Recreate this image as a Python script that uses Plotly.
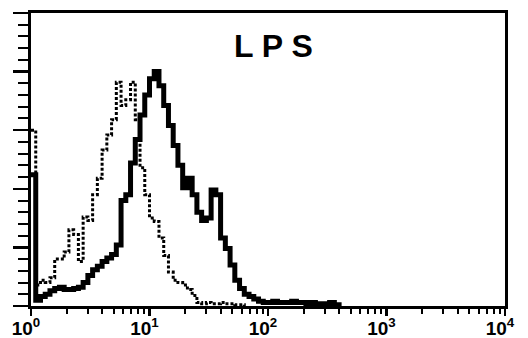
import numpy as np
import plotly.graph_objects as go

# Histogram bins: left edges, equally spaced in log10 (0.04 decade per bin)
bin_step_decades = 0.04

# Solid (thick) histogram – LPS stained sample, counts per bin
solid_counts = [112, 5, 8, 10, 13, 15, 16, 14, 14, 15,
                16, 20, 26, 31, 34, 38, 41, 44, 52, 90,
                95, 122, 142, 163, 180, 194, 200, 188, 171, 154,
                137, 120, 101, 109, 95, 80, 73, 75, 99, 95,
                58, 49, 35, 22, 15, 10, 8, 6, 4, 3,
                3, 4, 3, 3, 3, 4, 3, 3, 2, 3,
                2, 1, 2, 3, 1, 0]

# Dotted histogram – control, counts per bin
dotted_counts = [150, 18, 22, 20, 24, 40, 40, 46, 65, 61,
                 38, 76, 73, 95, 109, 133, 146, 159, 191, 171,
                 176, 191, 159, 118, 95, 75, 72, 58, 43, 29,
                 22, 20, 18, 14, 9, 3, 2, 3, 2, 2,
                 3, 2, 2, 1, 1, 0]

title_text = "L P S"
x_tick_vals = [1, 10, 100, 1000, 10000]
x_tick_text = ["10<sup>0</sup>", "10<sup>1</sup>", "10<sup>2</sup>",
               "10<sup>3</sup>", "10<sup>4</sup>"]
y_range = [0, 250]

solid_x = 10 ** (bin_step_decades * np.arange(len(solid_counts)))
dotted_x = 10 ** (bin_step_decades * np.arange(len(dotted_counts)))
minor_x = [m * d for d in x_tick_vals[:-1] for m in range(2, 10)]

font_family = "Liberation Sans, Arial, Helvetica, sans-serif"

fig = go.Figure()
fig.add_trace(go.Scatter(
    x=dotted_x, y=dotted_counts, mode="lines",
    line=dict(color="black", width=3, dash="3px,2px", shape="hv"),
    showlegend=False, hoverinfo="skip"))
fig.add_trace(go.Scatter(
    x=solid_x, y=solid_counts, mode="lines",
    line=dict(color="black", width=5, shape="hv"),
    showlegend=False, hoverinfo="skip"))

fig.add_annotation(
    text=title_text, xref="paper", yref="paper",
    x=0.511, y=0.887, xanchor="center", yanchor="middle",
    showarrow=False,
    font=dict(family=font_family, size=32, color="black", weight="bold"))

fig.update_xaxes(
    type="log", range=[0, 4], automargin=False,
    tickmode="array", tickvals=x_tick_vals, ticktext=x_tick_text,
    ticks="outside", ticklen=7, tickwidth=2.5, tickcolor="black",
    ticklabelshift=-5, ticklabelstandoff=-4,
    tickfont=dict(family=font_family, size=19, color="black", weight="bold"),
    minor=dict(tickmode="array", tickvals=minor_x, ticks="outside",
               ticklen=5, tickwidth=2, tickcolor="black"),
    showline=True, linecolor="black", linewidth=3, mirror=True,
    showgrid=False, zeroline=False)

fig.update_yaxes(
    range=y_range, dtick=50, ticks="outside", ticklen=15, tickwidth=2.5,
    tickcolor="black", showticklabels=False, automargin=False,
    minor=dict(dtick=10, ticks="outside", ticklen=10, tickwidth=2,
               tickcolor="black"),
    showline=True, linecolor="black", linewidth=3, mirror=True,
    showgrid=False, zeroline=False)

fig.update_layout(
    width=528, height=338,
    margin=dict(l=31, r=23, t=13, b=32, autoexpand=False),
    paper_bgcolor="white", plot_bgcolor="white")

fig.write_html(
    "out.html",
    config={"displayModeBar": False, "staticPlot": True},
    post_script="document.body.style.margin='0';document.body.style.overflow='hidden';")
